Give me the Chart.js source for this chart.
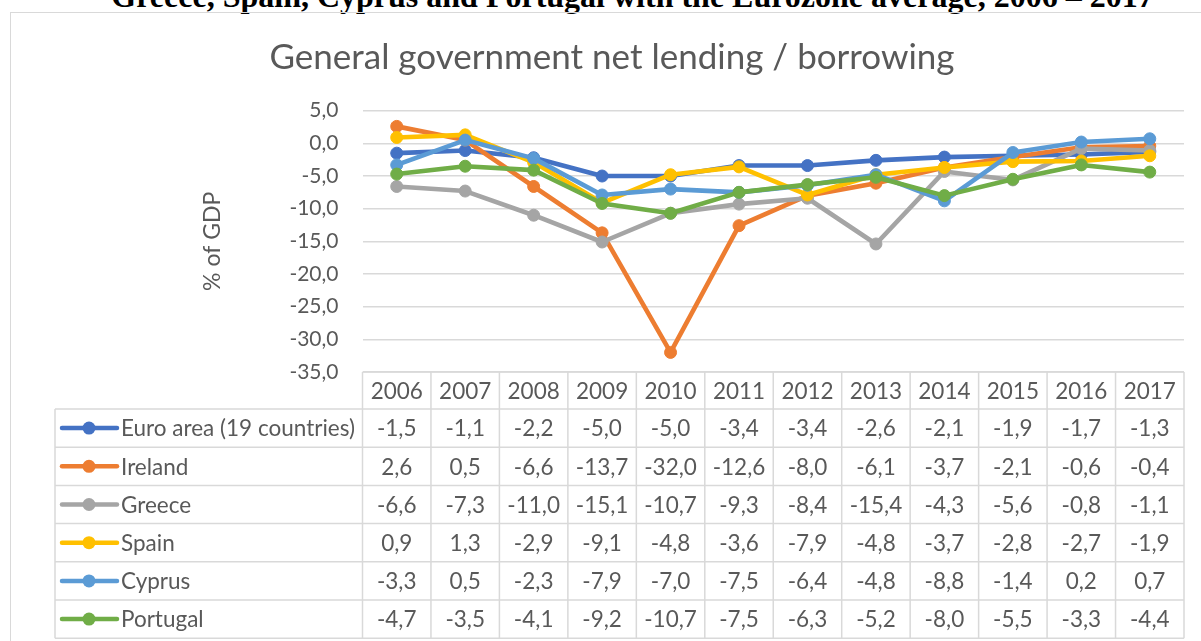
<!DOCTYPE html>
<html>
<head>
<meta charset="utf-8">
<title>General government net lending / borrowing</title>
<script src="https://cdn.jsdelivr.net/npm/chart.js@4.4.1/dist/chart.umd.min.js"></script>
<style>
  html, body { margin: 0; padding: 0; background: #fff; }
  #page { position: relative; width: 1201px; height: 641px; overflow: hidden; }
  #heading {
    position: absolute; left: 0; top: -20px; width: 1265px; text-align: center;
    font: bold 32px "Liberation Serif", "Times New Roman", serif; line-height: 32px;
    color: #000; white-space: nowrap;
  }
  #frame { position: absolute; left: 10px; top: 12px; width: 1200px; height: 640px; border: 1px solid #d9d9d9; }
  #chart { position: absolute; left: 0; top: 0; }
</style>
</head>
<body>
<div id="page">
  <div id="heading">Greece, Spain, Cyprus and Portugal with the Eurozone average, 2006 – 2017</div>
  <div id="frame"></div>
  <canvas id="chart" width="1201" height="641"></canvas>
</div>
<script>
// net lending (+) / borrowing (-), % of GDP
const years = ['2006', '2007', '2008', '2009', '2010', '2011', '2012', '2013', '2014', '2015', '2016', '2017'];
const euroArea = [-1.5, -1.1, -2.2, -5.0, -5.0, -3.4, -3.4, -2.6, -2.1, -1.9, -1.7, -1.3];
const ireland  = [2.6, 0.5, -6.6, -13.7, -32.0, -12.6, -8.0, -6.1, -3.7, -2.1, -0.6, -0.4];
const greece   = [-6.6, -7.3, -11.0, -15.1, -10.7, -9.3, -8.4, -15.4, -4.3, -5.6, -0.8, -1.1];
const spain    = [0.9, 1.3, -2.9, -9.1, -4.8, -3.6, -7.9, -4.8, -3.7, -2.8, -2.7, -1.9];
const cyprus   = [-3.3, 0.5, -2.3, -7.9, -7.0, -7.5, -6.4, -4.8, -8.8, -1.4, 0.2, 0.7];
const portugal = [-4.7, -3.5, -4.1, -9.2, -10.7, -7.5, -6.3, -5.2, -8.0, -5.5, -3.3, -4.4];

const seriesNames = ['Euro area (19 countries)', 'Ireland', 'Greece', 'Spain', 'Cyprus', 'Portugal'];
const seriesValues = [euroArea, ireland, greece, spain, cyprus, portugal];
const seriesColors = ['#4472C4', '#ED7D31', '#A5A5A5', '#FFC000', '#5B9BD5', '#70AD47'];

const yMin = -35, yMax = 5, yStep = 5;

const TEXT = '#595959';
const RULE = '#d9d9d9';
const FONT = 'Lato, "Open Sans", sans-serif';

const fmt = v => v.toFixed(1).replace('.', ',');

// chart title, centred over the whole frame
const chartTitle = {
  id: 'chartTitle',
  afterDraw(chart) {
    const ctx = chart.ctx;
    ctx.save();
    ctx.font = '35px ' + FONT;
    ctx.fillStyle = TEXT;
    ctx.textAlign = 'center';
    ctx.textBaseline = 'alphabetic';
    ctx.fillText('General government net lending / borrowing', 612, 69);
    ctx.restore();
  }
};

// data table under the plot, columns follow the x scale
const dataTable = {
  id: 'dataTable',
  afterDraw(chart) {
    const { ctx, chartArea, scales: { x } } = chart;
    const colW = x.width / years.length;
    const headTop = chartArea.bottom;
    const headH = 37;
    const rowH = 38.2;
    const tableLeft = 55;
    const bodyTop = headTop + headH;
    const bottom = bodyTop + rowH * seriesNames.length;
    const edges = years.map((_, i) => x.getPixelForValue(i) - colW / 2);
    edges.push(chartArea.right);

    ctx.save();
    ctx.strokeStyle = RULE;
    ctx.lineWidth = 1.5;
    ctx.beginPath();
    ctx.moveTo(edges[0], headTop);
    ctx.lineTo(chartArea.right, headTop);
    for (let r = 0; r <= seriesNames.length; r++) {
      const y = bodyTop + r * rowH;
      ctx.moveTo(tableLeft, y);
      ctx.lineTo(chartArea.right, y);
    }
    edges.forEach(ex => {
      ctx.moveTo(ex, headTop);
      ctx.lineTo(ex, bottom);
    });
    ctx.moveTo(tableLeft, bodyTop);
    ctx.lineTo(tableLeft, bottom);
    ctx.stroke();

    ctx.font = '22.5px ' + FONT;
    ctx.fillStyle = TEXT;
    ctx.textBaseline = 'middle';
    ctx.textAlign = 'center';
    years.forEach((yr, i) => ctx.fillText(yr, x.getPixelForValue(i), headTop + headH / 2 + 1));

    seriesNames.forEach((name, r) => {
      const cy = bodyTop + r * rowH + rowH / 2;
      ctx.textAlign = 'center';
      ctx.fillStyle = TEXT;
      seriesValues[r].forEach((v, i) => ctx.fillText(fmt(v), x.getPixelForValue(i), cy + 1));

      // legend key
      ctx.strokeStyle = seriesColors[r];
      ctx.lineWidth = 4.5;
      ctx.lineCap = 'round';
      ctx.beginPath();
      ctx.moveTo(62, cy);
      ctx.lineTo(117, cy);
      ctx.stroke();
      ctx.fillStyle = seriesColors[r];
      ctx.beginPath();
      ctx.arc(89, cy, 6.5, 0, Math.PI * 2);
      ctx.fill();

      ctx.fillStyle = TEXT;
      ctx.textAlign = 'left';
      ctx.fillText(name, 121, cy + 1);
    });
    ctx.restore();
  }
};

const datasets = seriesNames.map((name, i) => ({
  label: name,
  data: seriesValues[i],
  borderColor: seriesColors[i],
  backgroundColor: seriesColors[i],
  pointBackgroundColor: seriesColors[i],
  pointBorderColor: seriesColors[i],
  borderWidth: 4.6,
  pointRadius: 6,
  pointBorderWidth: 1,
  tension: 0,
  borderJoinStyle: 'round',
  borderCapStyle: 'round',
  order: seriesNames.length - i   // later series on top
}));

new Chart(document.getElementById('chart'), {
  type: 'line',
  data: { labels: years, datasets },
  options: {
    responsive: false,
    animation: false,
    devicePixelRatio: 1,
    layout: { padding: { left: 195, top: 110.7, right: 17, bottom: 269 } },
    plugins: {
      legend: { display: false },
      title: { display: false },
      tooltip: { enabled: false }
    },
    scales: {
      x: {
        type: 'category',
        offset: true,
        display: false
      },
      y: {
        min: yMin,
        max: yMax,
        afterFit(scale) { scale.width = 167.5; },
        border: { display: false },
        grid: { color: RULE, lineWidth: 1.6, drawTicks: false },
        ticks: {
          stepSize: yStep,
          padding: 24,
          color: TEXT,
          font: { size: 21, family: FONT },
          callback: v => fmt(v)
        },
        title: {
          display: true,
          text: '% of GDP',
          color: TEXT,
          font: { size: 23, family: FONT },
          padding: { top: 4, bottom: 0 }
        }
      }
    }
  },
  plugins: [chartTitle, dataTable]
});
</script>
</body>
</html>
